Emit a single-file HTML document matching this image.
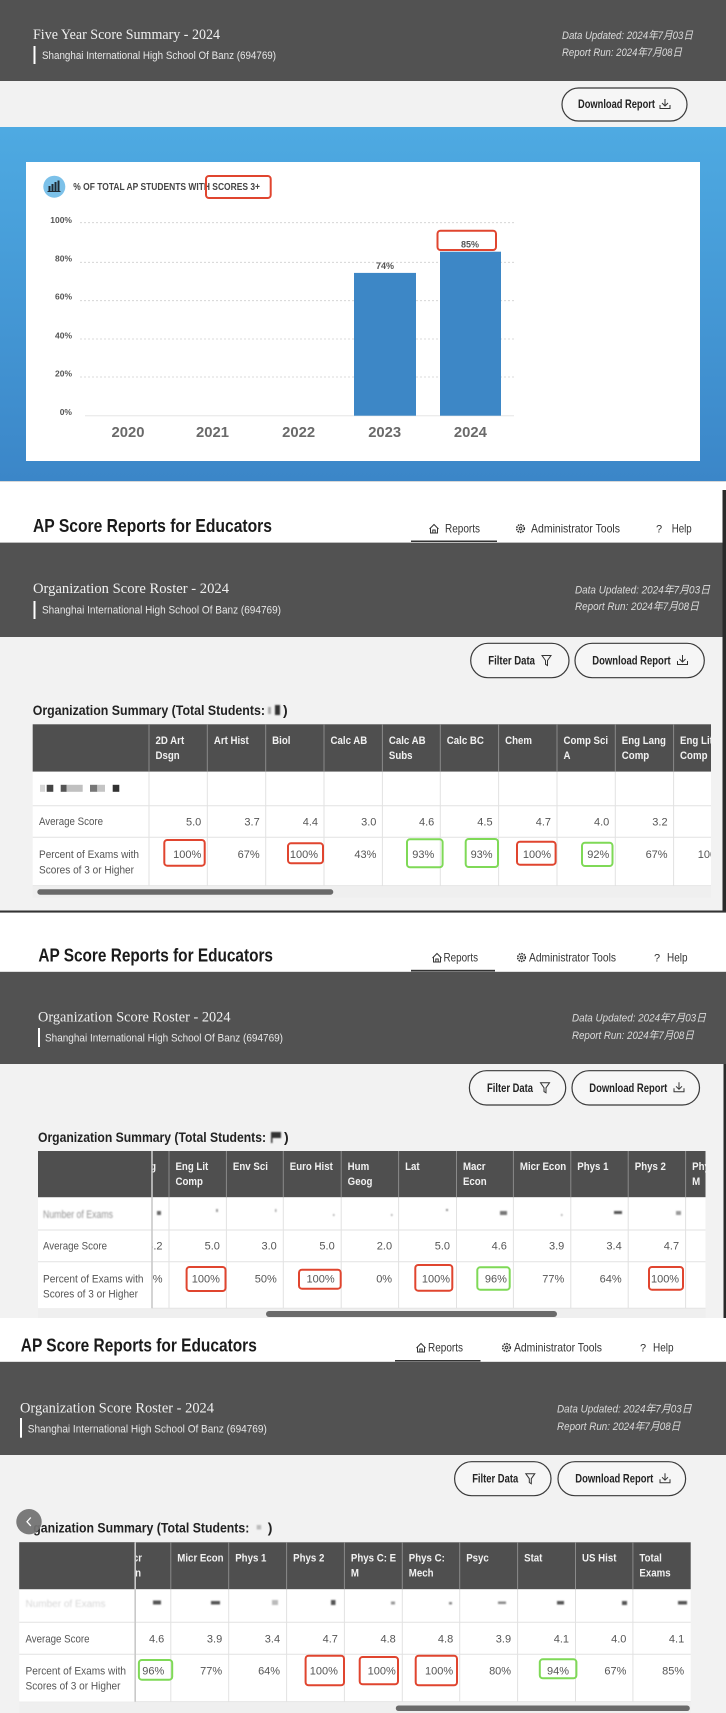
<!DOCTYPE html>
<html>
<head>
<meta charset="utf-8">
<style>
html,body{margin:0;padding:0;background:#fff;}
svg{display:block;}
.sans{font-family:"Liberation Sans","Noto Sans CJK SC",sans-serif;}
.serif{font-family:"Liberation Serif","Noto Serif CJK SC",serif;}
</style>
</head>
<body>
<svg width="726" height="1713" viewBox="0 0 726 1713" xmlns="http://www.w3.org/2000/svg" class="sans">
<defs>
  <linearGradient id="blue" x1="0" y1="0" x2="0" y2="1">
    <stop offset="0" stop-color="#4eaae2"/>
    <stop offset="1" stop-color="#3b86c8"/>
  </linearGradient>
  <filter id="bl" x="-20%" y="-50%" width="140%" height="200%"><feGaussianBlur stdDeviation="0.7"/></filter>
  <filter id="bl2" x="-20%" y="-50%" width="140%" height="200%"><feGaussianBlur stdDeviation="0.35"/></filter>
  <clipPath id="c2"><rect x="149" y="720" width="562" height="170"/></clipPath>
  <clipPath id="c3"><rect x="151.9" y="1148" width="553.6" height="165"/></clipPath>
  <clipPath id="c4"><rect x="135" y="1540" width="555.7" height="165"/></clipPath>
</defs>

<!-- ================= SECTION 1 ================= -->
<rect x="0" y="0" width="726" height="81" fill="#525252"/>
<text class="serif" x="33" y="39" font-size="15" fill="#f0f0f0" textLength="187" lengthAdjust="spacingAndGlyphs">Five Year Score Summary - 2024</text>
<rect x="33.5" y="46" width="2" height="18" fill="#ffffff"/>
<text x="42" y="59" font-size="11" fill="#e8e8e8" textLength="234" lengthAdjust="spacingAndGlyphs">Shanghai International High School Of Banz (694769)</text>
<text x="562" y="39" font-size="11" font-style="italic" fill="#dcdcdc" textLength="131" lengthAdjust="spacingAndGlyphs">Data Updated: 2024年7月03日</text>
<text x="562" y="56" font-size="11" font-style="italic" fill="#dcdcdc" textLength="120" lengthAdjust="spacingAndGlyphs">Report Run: 2024年7月08日</text>

<rect x="0" y="81" width="726" height="46" fill="#f2f2f2"/>
<rect x="562" y="88" width="125" height="33" rx="16.5" fill="#f6f6f6" stroke="#3a3a3a" stroke-width="1.2"/>
<text x="578" y="108" font-size="11.5" font-weight="bold" fill="#222" textLength="77" lengthAdjust="spacingAndGlyphs">Download Report</text>
<g stroke="#333" stroke-width="1" fill="none"><path d="M665 99 v7 M662 103 l3 3 l3 -3 M660 105 v3.5 h10 v-3.5"/></g>

<rect x="0" y="127" width="726" height="354" fill="url(#blue)"/>
<rect x="26" y="162" width="674" height="299" fill="#ffffff"/>

<!-- chart title -->
<circle cx="54.3" cy="186.7" r="11" fill="#7cc1e9"/>
<g fill="#1f2a33">
  <rect x="48.5" y="186" width="2" height="5"/>
  <rect x="51.5" y="184" width="2" height="7"/>
  <rect x="54.5" y="182" width="2" height="9"/>
  <rect x="57.5" y="180.5" width="2" height="10.5"/>
  <rect x="47.5" y="191" width="13" height="1"/>
</g>
<text x="73.3" y="190.2" font-size="10" font-weight="bold" fill="#454545" textLength="186.7" lengthAdjust="spacingAndGlyphs">% OF TOTAL AP STUDENTS WITH SCORES 3+</text>
<rect x="206" y="176" width="64.7" height="22" rx="3" fill="none" stroke="#e0452f" stroke-width="2"/>

<!-- grid -->
<g stroke="#cfcfcf" stroke-width="0.8" stroke-dasharray="2,2">
  <line x1="80" y1="222.7" x2="514" y2="222.7"/>
  <line x1="80" y1="262.3" x2="514" y2="262.3"/>
  <line x1="80" y1="300.7" x2="514" y2="300.7"/>
  <line x1="80" y1="339" x2="514" y2="339"/>
  <line x1="80" y1="377" x2="514" y2="377"/>
</g>
<line x1="85" y1="415.7" x2="514" y2="415.7" stroke="#e6e6e6" stroke-width="1"/>
<g font-size="8.5" fill="#555" font-weight="bold" text-anchor="end">
  <text x="72" y="223">100%</text>
  <text x="72" y="261.3">80%</text>
  <text x="72" y="299.7">60%</text>
  <text x="72" y="338.3">40%</text>
  <text x="72" y="376.3">20%</text>
  <text x="72" y="415">0%</text>
</g>
<rect x="354" y="272.9" width="62" height="142.8" fill="#3d87c6"/>
<rect x="440" y="251.7" width="61" height="164" fill="#3d87c6"/>
<g font-size="9" fill="#555" font-weight="bold" text-anchor="middle">
  <text x="385" y="269">74%</text>
  <text x="470" y="247.3">85%</text>
</g>
<rect x="437.5" y="230.7" width="58.5" height="19.3" rx="3" fill="none" stroke="#e0452f" stroke-width="2"/>
<g font-size="15" fill="#6a6a6a" font-weight="bold" text-anchor="middle">
  <text x="128" y="437" textLength="33" lengthAdjust="spacingAndGlyphs">2020</text>
  <text x="212.5" y="437" textLength="33" lengthAdjust="spacingAndGlyphs">2021</text>
  <text x="298.6" y="437" textLength="33" lengthAdjust="spacingAndGlyphs">2022</text>
  <text x="384.7" y="437" textLength="33" lengthAdjust="spacingAndGlyphs">2023</text>
  <text x="470.4" y="437" textLength="33" lengthAdjust="spacingAndGlyphs">2024</text>
</g>

<!-- ================= SECTION 2 ================= -->
<rect x="0" y="481" width="726" height="1" fill="#d8d8d8"/>
<rect x="0" y="482" width="726" height="61" fill="#ffffff"/>
<text x="33" y="532" font-size="18" font-weight="bold" fill="#1a1a1a" textLength="239" lengthAdjust="spacingAndGlyphs">AP Score Reports for Educators</text>
<!-- nav -->
<g stroke="#333" stroke-width="1" fill="none">
  <path d="M429.5 529 L434 524.5 L438.5 529 M430.5 528 V533 H437.5 V528 M432.8 533 V530 H435.2 V533"/>
  <circle cx="520.5" cy="528.5" r="3.8" stroke-dasharray="1.6,0.9" stroke-width="1.6"/>
  <circle cx="520.5" cy="528.5" r="1.4"/>
</g>
<text x="445" y="532.5" font-size="12" fill="#333" textLength="35" lengthAdjust="spacingAndGlyphs">Reports</text>
<text x="531" y="532.5" font-size="12" fill="#333" textLength="89" lengthAdjust="spacingAndGlyphs">Administrator Tools</text>
<text x="656" y="532.5" font-size="11" fill="#333">?</text>
<text x="671.7" y="532.5" font-size="12" fill="#333" textLength="20" lengthAdjust="spacingAndGlyphs">Help</text>
<rect x="411" y="540.5" width="86" height="2" fill="#333"/>
<rect x="0" y="542" width="726" height="1" fill="#bdbdbd"/>

<rect x="0" y="543" width="726" height="94" fill="#525252"/>
<text class="serif" x="33" y="593" font-size="15" fill="#f0f0f0" textLength="196" lengthAdjust="spacingAndGlyphs">Organization Score Roster - 2024</text>
<rect x="33.5" y="601" width="2" height="18" fill="#ffffff"/>
<text x="42" y="613.7" font-size="11" fill="#e8e8e8" textLength="239" lengthAdjust="spacingAndGlyphs">Shanghai International High School Of Banz (694769)</text>
<text x="575" y="593.3" font-size="11" font-style="italic" fill="#dcdcdc" textLength="135" lengthAdjust="spacingAndGlyphs">Data Updated: 2024年7月03日</text>
<text x="575" y="610" font-size="11" font-style="italic" fill="#dcdcdc" textLength="124" lengthAdjust="spacingAndGlyphs">Report Run: 2024年7月08日</text>

<rect x="0" y="637" width="726" height="274" fill="#f2f2f2"/>
<rect x="470.7" y="643.3" width="98.3" height="34.4" rx="17.2" fill="#f6f6f6" stroke="#3a3a3a" stroke-width="1.2"/>
<text x="488.3" y="664.5" font-size="11.5" font-weight="bold" fill="#222" textLength="46.7" lengthAdjust="spacingAndGlyphs">Filter Data</text>
<path d="M542 655.5 h9 l-3.5 5 v5 l-2 -1.2 v-3.8 z" fill="none" stroke="#333" stroke-width="1"/>
<rect x="575" y="643.3" width="129.3" height="34.4" rx="17.2" fill="#f6f6f6" stroke="#3a3a3a" stroke-width="1.2"/>
<text x="592.3" y="664.5" font-size="11.5" font-weight="bold" fill="#222" textLength="78.4" lengthAdjust="spacingAndGlyphs">Download Report</text>
<g stroke="#333" stroke-width="1" fill="none"><path d="M682.5 655 v7 M679.5 659 l3 3 l3 -3 M677.5 661 v3.5 h10 v-3.5"/></g>

<text x="32.7" y="715" font-size="14" font-weight="bold" fill="#222" textLength="232.3" lengthAdjust="spacingAndGlyphs">Organization Summary (Total Students:</text>
<g filter="url(#bl)"><rect x="268" y="707" width="3" height="7" fill="#aaa"/><rect x="275" y="705" width="5" height="10" fill="#333"/></g>
<text x="283" y="715" font-size="14" font-weight="bold" fill="#222">)</text>

<!-- table S2 -->
<rect x="32.7" y="724.3" width="678.3" height="47.4" fill="#4f4f4f"/>
<rect x="32.7" y="771.7" width="678.3" height="114" fill="#ffffff"/>
<g stroke="#e2e2e2" stroke-width="1">
  <line x1="32.7" y1="805.7" x2="711" y2="805.7"/>
  <line x1="32.7" y1="837.3" x2="711" y2="837.3"/>
  <line x1="32.7" y1="885.7" x2="711" y2="885.7"/>
</g>
<g stroke="#e2e2e2" stroke-width="1">
  <line x1="149" y1="771.7" x2="149" y2="885.7"/><line x1="207.3" y1="771.7" x2="207.3" y2="885.7"/>
  <line x1="265.7" y1="771.7" x2="265.7" y2="885.7"/><line x1="324" y1="771.7" x2="324" y2="885.7"/>
  <line x1="382.4" y1="771.7" x2="382.4" y2="885.7"/><line x1="440.3" y1="771.7" x2="440.3" y2="885.7"/>
  <line x1="498.6" y1="771.7" x2="498.6" y2="885.7"/><line x1="557" y1="771.7" x2="557" y2="885.7"/>
  <line x1="615.3" y1="771.7" x2="615.3" y2="885.7"/><line x1="673.6" y1="771.7" x2="673.6" y2="885.7"/>
</g>
<g stroke="#8a8a8a" stroke-width="1">
  <line x1="149" y1="724.3" x2="149" y2="771.7"/><line x1="207.3" y1="724.3" x2="207.3" y2="771.7"/>
  <line x1="265.7" y1="724.3" x2="265.7" y2="771.7"/><line x1="324" y1="724.3" x2="324" y2="771.7"/>
  <line x1="382.4" y1="724.3" x2="382.4" y2="771.7"/><line x1="440.3" y1="724.3" x2="440.3" y2="771.7"/>
  <line x1="498.6" y1="724.3" x2="498.6" y2="771.7"/><line x1="557" y1="724.3" x2="557" y2="771.7"/>
  <line x1="615.3" y1="724.3" x2="615.3" y2="771.7"/><line x1="673.6" y1="724.3" x2="673.6" y2="771.7"/>
</g>
<g clip-path="url(#c2)">
<g transform="scale(0.88 1)" font-size="11" font-weight="bold" fill="#f2f2f2">
  <text x="176.7" y="744.1">2D Art</text><text x="176.7" y="759.1">Dsgn</text>
  <text x="243" y="744.1">Art Hist</text>
  <text x="309.3" y="744.1">Biol</text>
  <text x="375.6" y="744.1">Calc AB</text>
  <text x="441.9" y="744.1">Calc AB</text><text x="441.9" y="759.1">Subs</text>
  <text x="507.7" y="744.1">Calc BC</text>
  <text x="574" y="744.1">Chem</text>
  <text x="640.3" y="744.1">Comp Sci</text><text x="640.3" y="759.1">A</text>
  <text x="706.6" y="744.1">Eng Lang</text><text x="706.6" y="759.1">Comp</text>
  <text x="772.8" y="744.1">Eng Lit</text><text x="772.8" y="759.1">Comp</text>
</g>
<g font-size="11" fill="#555" text-anchor="end">
  <text x="201.3" y="825.5">5.0</text><text x="259.7" y="825.5">3.7</text><text x="318" y="825.5">4.4</text>
  <text x="376.4" y="825.5">3.0</text><text x="434.3" y="825.5">4.6</text><text x="492.6" y="825.5">4.5</text>
  <text x="551" y="825.5">4.7</text><text x="609.3" y="825.5">4.0</text><text x="667.6" y="825.5">3.2</text>
  <text x="201.3" y="858">100%</text><text x="259.7" y="858">67%</text><text x="318" y="858">100%</text>
  <text x="376.4" y="858">43%</text><text x="434.3" y="858">93%</text><text x="492.6" y="858">93%</text>
  <text x="551" y="858">100%</text><text x="609.3" y="858">92%</text><text x="667.6" y="858">67%</text>
  <text x="725.9" y="858">100%</text>
</g>
</g>
<g filter="url(#bl2)">
  <rect x="40" y="784.8" width="5" height="7" fill="#d6d6d6"/>
  <rect x="46.7" y="784.8" width="6.6" height="7" fill="#444"/>
  <rect x="60.7" y="784.8" width="6" height="7" fill="#555"/>
  <rect x="66.7" y="784.8" width="16" height="7" fill="#c0c0c0"/>
  <rect x="90" y="784.8" width="7.3" height="7" fill="#777"/>
  <rect x="97.3" y="784.8" width="7.7" height="7" fill="#c4c4c4"/>
  <rect x="112.7" y="784.8" width="6.6" height="7" fill="#333"/>
</g>
<g font-size="11" fill="#555">
  <text x="39" y="825" textLength="64" lengthAdjust="spacingAndGlyphs">Average Score</text>
  <text x="39" y="858" textLength="100" lengthAdjust="spacingAndGlyphs">Percent of Exams with</text>
  <text x="39" y="873.3" textLength="95" lengthAdjust="spacingAndGlyphs">Scores of 3 or Higher</text>
</g>
<g fill="none" stroke-width="2">
  <rect x="164.3" y="840" width="40.4" height="25.7" rx="3" stroke="#e0452f"/>
  <rect x="288" y="843.3" width="35" height="20" rx="3" stroke="#e0452f"/>
  <rect x="407" y="839.3" width="35.6" height="28" rx="3" stroke="#7fd957"/>
  <rect x="465.7" y="839" width="32.3" height="28" rx="3" stroke="#7fd957"/>
  <rect x="517" y="841.7" width="38.6" height="23" rx="3" stroke="#e0452f"/>
  <rect x="582" y="842.7" width="30.5" height="23.3" rx="3" stroke="#7fd957"/>
</g>
<rect x="32.7" y="886.2" width="678.3" height="11.5" fill="#efefef"/>
<rect x="37.3" y="889.3" width="296" height="5.4" rx="2.7" fill="#6a6a6a"/>
<!-- window border -->
<rect x="722.5" y="490" width="3.5" height="422" fill="#2a2a2a"/>
<rect x="0" y="910.5" width="726" height="2.2" fill="#333"/>

<!-- ================= SECTION 3 ================= -->
<rect x="0" y="912.7" width="726" height="59.3" fill="#ffffff"/>
<text x="38.4" y="961.3" font-size="18" font-weight="bold" fill="#1a1a1a" textLength="234.6" lengthAdjust="spacingAndGlyphs">AP Score Reports for Educators</text>
<g stroke="#333" stroke-width="1" fill="none">
  <path d="M432.5 958 L437 953.5 L441.5 958 M433.5 957 V962 H440.5 V957 M435.8 962 V959 H438.2 V962"/>
  <circle cx="521.5" cy="957.5" r="3.8" stroke-dasharray="1.6,0.9" stroke-width="1.6"/>
  <circle cx="521.5" cy="957.5" r="1.4"/>
</g>
<text x="443.5" y="961.5" font-size="12" fill="#333" textLength="34.5" lengthAdjust="spacingAndGlyphs">Reports</text>
<text x="529" y="961.5" font-size="12" fill="#333" textLength="87" lengthAdjust="spacingAndGlyphs">Administrator Tools</text>
<text x="654" y="961.5" font-size="11" fill="#333">?</text>
<text x="667" y="961.5" font-size="12" fill="#333" textLength="20.5" lengthAdjust="spacingAndGlyphs">Help</text>
<rect x="411" y="969.8" width="84" height="2" fill="#333"/>
<rect x="0" y="971.5" width="726" height="1" fill="#bdbdbd"/>

<rect x="0" y="972" width="726" height="92" fill="#525252"/>
<text class="serif" x="38" y="1021.7" font-size="15" fill="#f0f0f0" textLength="192.5" lengthAdjust="spacingAndGlyphs">Organization Score Roster - 2024</text>
<rect x="38" y="1028" width="2" height="19" fill="#ffffff"/>
<text x="45" y="1041.7" font-size="11" fill="#e8e8e8" textLength="238" lengthAdjust="spacingAndGlyphs">Shanghai International High School Of Banz (694769)</text>
<text x="572" y="1021.7" font-size="11" font-style="italic" fill="#dcdcdc" textLength="134" lengthAdjust="spacingAndGlyphs">Data Updated: 2024年7月03日</text>
<text x="572" y="1039" font-size="11" font-style="italic" fill="#dcdcdc" textLength="122" lengthAdjust="spacingAndGlyphs">Report Run: 2024年7月08日</text>

<rect x="0" y="1064" width="726" height="254" fill="#f2f2f2"/>
<rect x="469.4" y="1070.7" width="96.3" height="34.3" rx="17.1" fill="#f6f6f6" stroke="#3a3a3a" stroke-width="1.2"/>
<text x="487" y="1091.8" font-size="11.5" font-weight="bold" fill="#222" textLength="46" lengthAdjust="spacingAndGlyphs">Filter Data</text>
<path d="M540.5 1082.8 h9 l-3.5 5 v5 l-2 -1.2 v-3.8 z" fill="none" stroke="#333" stroke-width="1"/>
<rect x="572" y="1070.7" width="127.5" height="34.3" rx="17.1" fill="#f6f6f6" stroke="#3a3a3a" stroke-width="1.2"/>
<text x="589.3" y="1091.8" font-size="11.5" font-weight="bold" fill="#222" textLength="78" lengthAdjust="spacingAndGlyphs">Download Report</text>
<g stroke="#333" stroke-width="1" fill="none"><path d="M679 1082.3 v7 M676 1086.3 l3 3 l3 -3 M674 1088.3 v3.5 h10 v-3.5"/></g>

<text x="38" y="1142" font-size="14" font-weight="bold" fill="#222" textLength="228" lengthAdjust="spacingAndGlyphs">Organization Summary (Total Students:</text>
<g filter="url(#bl)"><rect x="271" y="1132" width="10" height="6" fill="#333"/><rect x="271" y="1132" width="1.5" height="11" fill="#333"/></g>
<text x="284" y="1142" font-size="14" font-weight="bold" fill="#222">)</text>

<!-- table S3 -->
<rect x="38" y="1151" width="667.5" height="46.3" fill="#4f4f4f"/>
<rect x="38" y="1197.3" width="667.5" height="111" fill="#ffffff"/>
<g stroke="#e2e2e2" stroke-width="1">
  <line x1="38" y1="1230" x2="705.5" y2="1230"/>
  <line x1="38" y1="1261.7" x2="705.5" y2="1261.7"/>
  <line x1="38" y1="1308.3" x2="705.5" y2="1308.3"/>
</g>
<g clip-path="url(#c3)">
<g stroke="#e2e2e2" stroke-width="1">
  <line x1="169" y1="1197.3" x2="169" y2="1308.3"/><line x1="226.4" y1="1197.3" x2="226.4" y2="1308.3"/>
  <line x1="283.3" y1="1197.3" x2="283.3" y2="1308.3"/><line x1="341.2" y1="1197.3" x2="341.2" y2="1308.3"/>
  <line x1="398.6" y1="1197.3" x2="398.6" y2="1308.3"/><line x1="456.5" y1="1197.3" x2="456.5" y2="1308.3"/>
  <line x1="513.4" y1="1197.3" x2="513.4" y2="1308.3"/><line x1="570.8" y1="1197.3" x2="570.8" y2="1308.3"/>
  <line x1="628.2" y1="1197.3" x2="628.2" y2="1308.3"/><line x1="685.6" y1="1197.3" x2="685.6" y2="1308.3"/>
</g>
<g stroke="#8a8a8a" stroke-width="1">
  <line x1="169" y1="1151" x2="169" y2="1197.3"/><line x1="226.4" y1="1151" x2="226.4" y2="1197.3"/>
  <line x1="283.3" y1="1151" x2="283.3" y2="1197.3"/><line x1="341.2" y1="1151" x2="341.2" y2="1197.3"/>
  <line x1="398.6" y1="1151" x2="398.6" y2="1197.3"/><line x1="456.5" y1="1151" x2="456.5" y2="1197.3"/>
  <line x1="513.4" y1="1151" x2="513.4" y2="1197.3"/><line x1="570.8" y1="1151" x2="570.8" y2="1197.3"/>
  <line x1="628.2" y1="1151" x2="628.2" y2="1197.3"/><line x1="685.6" y1="1151" x2="685.6" y2="1197.3"/>
</g>
<g transform="scale(0.88 1)" font-size="11" font-weight="bold" fill="#f2f2f2">
  <text x="127.3" y="1170.1">Eng Lang</text><text x="127.3" y="1184.8">Comp</text>
  <text x="199.4" y="1170.1">Eng Lit</text><text x="199.4" y="1184.8">Comp</text>
  <text x="264.7" y="1170.1">Env Sci</text>
  <text x="329.3" y="1170.1">Euro Hist</text>
  <text x="395.1" y="1170.1">Hum</text><text x="395.1" y="1184.8">Geog</text>
  <text x="460.3" y="1170.1">Lat</text>
  <text x="526.1" y="1170.1">Macr</text><text x="526.1" y="1184.8">Econ</text>
  <text x="590.8" y="1170.1">Micr Econ</text>
  <text x="656" y="1170.1">Phys 1</text>
  <text x="721.3" y="1170.1">Phys 2</text>
  <text x="786.5" y="1170.1">Phys C: E</text><text x="786.5" y="1184.8">M</text>
</g>
<g font-size="11" fill="#555" text-anchor="end">
  <text x="162.5" y="1249.7">3.2</text><text x="219.9" y="1249.7">5.0</text><text x="276.8" y="1249.7">3.0</text>
  <text x="334.7" y="1249.7">5.0</text><text x="392.1" y="1249.7">2.0</text><text x="450" y="1249.7">5.0</text>
  <text x="506.9" y="1249.7">4.6</text><text x="564.3" y="1249.7">3.9</text><text x="621.7" y="1249.7">3.4</text>
  <text x="679.1" y="1249.7">4.7</text>
  <text x="162.5" y="1282.3">67%</text><text x="219.9" y="1282.3">100%</text><text x="276.8" y="1282.3">50%</text>
  <text x="334.7" y="1282.3">100%</text><text x="392.1" y="1282.3">0%</text><text x="450" y="1282.3">100%</text>
  <text x="506.9" y="1282.3">96%</text><text x="564.3" y="1282.3">77%</text><text x="621.7" y="1282.3">64%</text>
  <text x="679.1" y="1282.3">100%</text>
</g>
<g filter="url(#bl)" fill="#666">
  <rect x="157" y="1211" width="4" height="4"/>
  <rect x="216" y="1209" width="2" height="3" fill="#999"/>
  <rect x="275" y="1209" width="1.5" height="3" fill="#aaa"/>
  <rect x="333" y="1214" width="1.5" height="2" fill="#aaa"/>
  <rect x="391" y="1214" width="1.5" height="2" fill="#aaa"/>
  <rect x="446" y="1209" width="2" height="2" fill="#888"/>
  <rect x="500" y="1211" width="7" height="4" fill="#777"/>
  <rect x="561" y="1214" width="1.5" height="2" fill="#aaa"/>
  <rect x="614" y="1211" width="8" height="3" fill="#555"/>
  <rect x="676" y="1211" width="5" height="4" fill="#999"/>
</g>
</g>
<!-- sticky first col S3 -->
<rect x="38" y="1151" width="113.9" height="46.3" fill="#4f4f4f"/>
<rect x="38" y="1197.3" width="113.9" height="111" fill="#ffffff"/>
<g stroke="#e2e2e2" stroke-width="1">
  <line x1="38" y1="1230" x2="151.9" y2="1230"/>
  <line x1="38" y1="1261.7" x2="151.9" y2="1261.7"/>
</g>
<line x1="152" y1="1151" x2="152" y2="1308.3" stroke="#c9c9c9" stroke-width="1.6"/>
<text x="43" y="1218" font-size="11" fill="#777" opacity="0.8" filter="url(#bl)" textLength="70" lengthAdjust="spacingAndGlyphs">Number of Exams</text>
<g font-size="11" fill="#555">
  <text x="43" y="1249.7" textLength="64" lengthAdjust="spacingAndGlyphs">Average Score</text>
  <text x="43" y="1282.3" textLength="100.5" lengthAdjust="spacingAndGlyphs">Percent of Exams with</text>
  <text x="43" y="1297.3" textLength="95" lengthAdjust="spacingAndGlyphs">Scores of 3 or Higher</text>
</g>
<g fill="none" stroke-width="2">
  <rect x="186.6" y="1267" width="38.9" height="24" rx="3" stroke="#e0452f"/>
  <rect x="299" y="1269.7" width="41.7" height="19" rx="3" stroke="#e0452f"/>
  <rect x="415.3" y="1265" width="37" height="25.7" rx="3" stroke="#e0452f"/>
  <rect x="477.3" y="1267.3" width="32.4" height="22.4" rx="3" stroke="#7fd957"/>
  <rect x="649" y="1267" width="34" height="22.7" rx="3" stroke="#e0452f"/>
</g>
<rect x="38" y="1308.8" width="667.5" height="9.2" fill="#efefef"/>
<rect x="266" y="1311" width="291" height="6" rx="3" fill="#6a6a6a"/>
<rect x="723.5" y="1064" width="2.5" height="254" fill="#2a2a2a"/>

<!-- ================= SECTION 4 ================= -->
<rect x="0" y="1318" width="726" height="44" fill="#ffffff"/>
<text x="20.8" y="1351.3" font-size="18" font-weight="bold" fill="#1a1a1a" textLength="236" lengthAdjust="spacingAndGlyphs">AP Score Reports for Educators</text>
<g stroke="#333" stroke-width="1" fill="none">
  <path d="M416.5 1348 L421 1343.5 L425.5 1348 M417.5 1347 V1352 H424.5 V1347 M419.8 1352 V1349 H422.2 V1352"/>
  <circle cx="506.5" cy="1347.5" r="3.8" stroke-dasharray="1.6,0.9" stroke-width="1.6"/>
  <circle cx="506.5" cy="1347.5" r="1.4"/>
</g>
<text x="428" y="1351.5" font-size="12" fill="#333" textLength="35" lengthAdjust="spacingAndGlyphs">Reports</text>
<text x="514" y="1351.5" font-size="12" fill="#333" textLength="88" lengthAdjust="spacingAndGlyphs">Administrator Tools</text>
<text x="640" y="1351.5" font-size="11" fill="#333">?</text>
<text x="653" y="1351.5" font-size="12" fill="#333" textLength="20.6" lengthAdjust="spacingAndGlyphs">Help</text>
<rect x="395" y="1360" width="85.5" height="2" fill="#333"/>
<rect x="0" y="1361.5" width="726" height="1" fill="#bdbdbd"/>

<rect x="0" y="1362" width="726" height="93" fill="#525252"/>
<text class="serif" x="20" y="1412.3" font-size="15" fill="#f0f0f0" textLength="194" lengthAdjust="spacingAndGlyphs">Organization Score Roster - 2024</text>
<rect x="20" y="1418" width="2" height="19.7" fill="#ffffff"/>
<text x="27.8" y="1432.3" font-size="11" fill="#e8e8e8" textLength="239" lengthAdjust="spacingAndGlyphs">Shanghai International High School Of Banz (694769)</text>
<text x="557" y="1412.3" font-size="11" font-style="italic" fill="#dcdcdc" textLength="134.7" lengthAdjust="spacingAndGlyphs">Data Updated: 2024年7月03日</text>
<text x="557" y="1430" font-size="11" font-style="italic" fill="#dcdcdc" textLength="123.5" lengthAdjust="spacingAndGlyphs">Report Run: 2024年7月08日</text>

<rect x="0" y="1455" width="726" height="258" fill="#f2f2f2"/>
<rect x="454.6" y="1461.7" width="96.4" height="34" rx="17" fill="#f6f6f6" stroke="#3a3a3a" stroke-width="1.2"/>
<text x="472.2" y="1482.7" font-size="11.5" font-weight="bold" fill="#222" textLength="46" lengthAdjust="spacingAndGlyphs">Filter Data</text>
<path d="M525.8 1473.7 h9 l-3.5 5 v5 l-2 -1.2 v-3.8 z" fill="none" stroke="#333" stroke-width="1"/>
<rect x="558" y="1461.7" width="127.6" height="34" rx="17" fill="#f6f6f6" stroke="#3a3a3a" stroke-width="1.2"/>
<text x="575.3" y="1482.7" font-size="11.5" font-weight="bold" fill="#222" textLength="78" lengthAdjust="spacingAndGlyphs">Download Report</text>
<g stroke="#333" stroke-width="1" fill="none"><path d="M665 1473.2 v7 M662 1477.2 l3 3 l3 -3 M660 1479.2 v3.5 h10 v-3.5"/></g>

<text x="33.3" y="1532.7" font-size="14" font-weight="bold" fill="#222" textLength="216" lengthAdjust="spacingAndGlyphs">ganization Summary (Total Students:</text>
<rect x="256.7" y="1525" width="4.5" height="4.5" fill="#bbb" filter="url(#bl)"/>
<text x="267.7" y="1532.7" font-size="14" font-weight="bold" fill="#222">)</text>
<circle cx="29" cy="1521.7" r="12.7" fill="#737373" opacity="0.95"/>
<path d="M30.8 1517.5 L27 1521.7 L30.8 1525.9" fill="none" stroke="#ffffff" stroke-width="1.3"/>

<!-- table S4 -->
<rect x="19.3" y="1542.3" width="671.4" height="47" fill="#4f4f4f"/>
<rect x="19.3" y="1589.3" width="671.4" height="112.4" fill="#ffffff"/>
<g stroke="#e2e2e2" stroke-width="1">
  <line x1="19.3" y1="1622.3" x2="690.7" y2="1622.3"/>
  <line x1="19.3" y1="1654.3" x2="690.7" y2="1654.3"/>
  <line x1="19.3" y1="1701.7" x2="690.7" y2="1701.7"/>
</g>
<g clip-path="url(#c4)">
<g stroke="#e2e2e2" stroke-width="1">
  <line x1="170.8" y1="1589.3" x2="170.8" y2="1701.7"/><line x1="228.7" y1="1589.3" x2="228.7" y2="1701.7"/>
  <line x1="286.6" y1="1589.3" x2="286.6" y2="1701.7"/><line x1="344.4" y1="1589.3" x2="344.4" y2="1701.7"/>
  <line x1="402.3" y1="1589.3" x2="402.3" y2="1701.7"/><line x1="459.7" y1="1589.3" x2="459.7" y2="1701.7"/>
  <line x1="517.6" y1="1589.3" x2="517.6" y2="1701.7"/><line x1="575.5" y1="1589.3" x2="575.5" y2="1701.7"/>
  <line x1="632.9" y1="1589.3" x2="632.9" y2="1701.7"/>
</g>
<g stroke="#8a8a8a" stroke-width="1">
  <line x1="170.8" y1="1542.3" x2="170.8" y2="1589.3"/><line x1="228.7" y1="1542.3" x2="228.7" y2="1589.3"/>
  <line x1="286.6" y1="1542.3" x2="286.6" y2="1589.3"/><line x1="344.4" y1="1542.3" x2="344.4" y2="1589.3"/>
  <line x1="402.3" y1="1542.3" x2="402.3" y2="1589.3"/><line x1="459.7" y1="1542.3" x2="459.7" y2="1589.3"/>
  <line x1="517.6" y1="1542.3" x2="517.6" y2="1589.3"/><line x1="575.5" y1="1542.3" x2="575.5" y2="1589.3"/>
  <line x1="632.9" y1="1542.3" x2="632.9" y2="1589.3"/>
</g>
<g transform="scale(0.88 1)" font-size="11" font-weight="bold" fill="#f2f2f2">
  <text x="135.7" y="1561.5">Macr</text><text x="133.4" y="1576.5">Econ</text>
  <text x="201.5" y="1561.5">Micr Econ</text>
  <text x="267.3" y="1561.5">Phys 1</text>
  <text x="333.1" y="1561.5">Phys 2</text>
  <text x="398.8" y="1561.5">Phys C: E</text><text x="398.8" y="1576.5">M</text>
  <text x="464.5" y="1561.5">Phys C:</text><text x="464.5" y="1576.5">Mech</text>
  <text x="529.8" y="1561.5">Psyc</text>
  <text x="595.6" y="1561.5">Stat</text>
  <text x="661.4" y="1561.5">US Hist</text>
  <text x="726.6" y="1561.5">Total</text><text x="726.6" y="1576.5">Exams</text>
</g>
<g font-size="11" fill="#555" text-anchor="end">
  <text x="164.3" y="1642.3">4.6</text><text x="222.2" y="1642.3">3.9</text><text x="280.1" y="1642.3">3.4</text>
  <text x="337.9" y="1642.3">4.7</text><text x="395.8" y="1642.3">4.8</text><text x="453.2" y="1642.3">4.8</text>
  <text x="511.1" y="1642.3">3.9</text><text x="569" y="1642.3">4.1</text><text x="626.4" y="1642.3">4.0</text>
  <text x="684.2" y="1642.3">4.1</text>
  <text x="164.3" y="1674.3">96%</text><text x="222.2" y="1674.3">77%</text><text x="280.1" y="1674.3">64%</text>
  <text x="337.9" y="1674.3">100%</text><text x="395.8" y="1674.3">100%</text><text x="453.2" y="1674.3">100%</text>
  <text x="511.1" y="1674.3">80%</text><text x="569" y="1674.3">94%</text><text x="626.4" y="1674.3">67%</text>
  <text x="684.2" y="1674.3">85%</text>
</g>
<g filter="url(#bl)" fill="#555">
  <rect x="153" y="1600.5" width="8" height="4"/>
  <rect x="211" y="1601" width="9" height="3.5"/>
  <rect x="272" y="1600" width="6" height="5" fill="#bbb"/>
  <rect x="331" y="1600" width="4.5" height="5"/>
  <rect x="391" y="1601.5" width="4" height="3" fill="#999"/>
  <rect x="449" y="1602" width="3" height="2.5" fill="#888"/>
  <rect x="498" y="1601.5" width="8" height="2.5" fill="#888"/>
  <rect x="557" y="1601" width="7" height="3.5"/>
  <rect x="622" y="1601" width="5" height="4"/>
  <rect x="678" y="1601" width="9" height="3.5"/>
</g>
</g>
<!-- sticky first col S4 -->
<rect x="19.3" y="1542.3" width="115.7" height="47" fill="#4f4f4f"/>
<rect x="19.3" y="1589.3" width="115.7" height="112.4" fill="#ffffff"/>
<g stroke="#e2e2e2" stroke-width="1">
  <line x1="19.3" y1="1622.3" x2="135" y2="1622.3"/>
  <line x1="19.3" y1="1654.3" x2="135" y2="1654.3"/>
</g>
<line x1="135.2" y1="1542.3" x2="135.2" y2="1701.7" stroke="#c9c9c9" stroke-width="1.6"/>
<text x="25.5" y="1607" font-size="10" fill="#bbb" opacity="0.6" filter="url(#bl)" textLength="80" lengthAdjust="spacingAndGlyphs">Number of Exams</text>
<g font-size="11" fill="#555">
  <text x="25.5" y="1642.3" textLength="64" lengthAdjust="spacingAndGlyphs">Average Score</text>
  <text x="25.5" y="1674.3" textLength="100.5" lengthAdjust="spacingAndGlyphs">Percent of Exams with</text>
  <text x="25.5" y="1689.7" textLength="95" lengthAdjust="spacingAndGlyphs">Scores of 3 or Higher</text>
</g>
<g fill="none" stroke-width="2">
  <rect x="138.9" y="1660" width="33.3" height="19.7" rx="3" stroke="#7fd957"/>
  <rect x="305.6" y="1655.7" width="38.4" height="29.6" rx="3" stroke="#e0452f"/>
  <rect x="359.7" y="1657" width="38.3" height="27.3" rx="3" stroke="#e0452f"/>
  <rect x="415.7" y="1655.7" width="41.3" height="29.6" rx="3" stroke="#e0452f"/>
  <rect x="539.8" y="1659.3" width="36.6" height="19" rx="3" stroke="#7fd957"/>
</g>
<rect x="19.3" y="1702.2" width="671.4" height="10.8" fill="#efefef"/>
<rect x="395.8" y="1705.5" width="294" height="5.5" rx="2.7" fill="#6a6a6a"/>
</svg>
</body>
</html>
